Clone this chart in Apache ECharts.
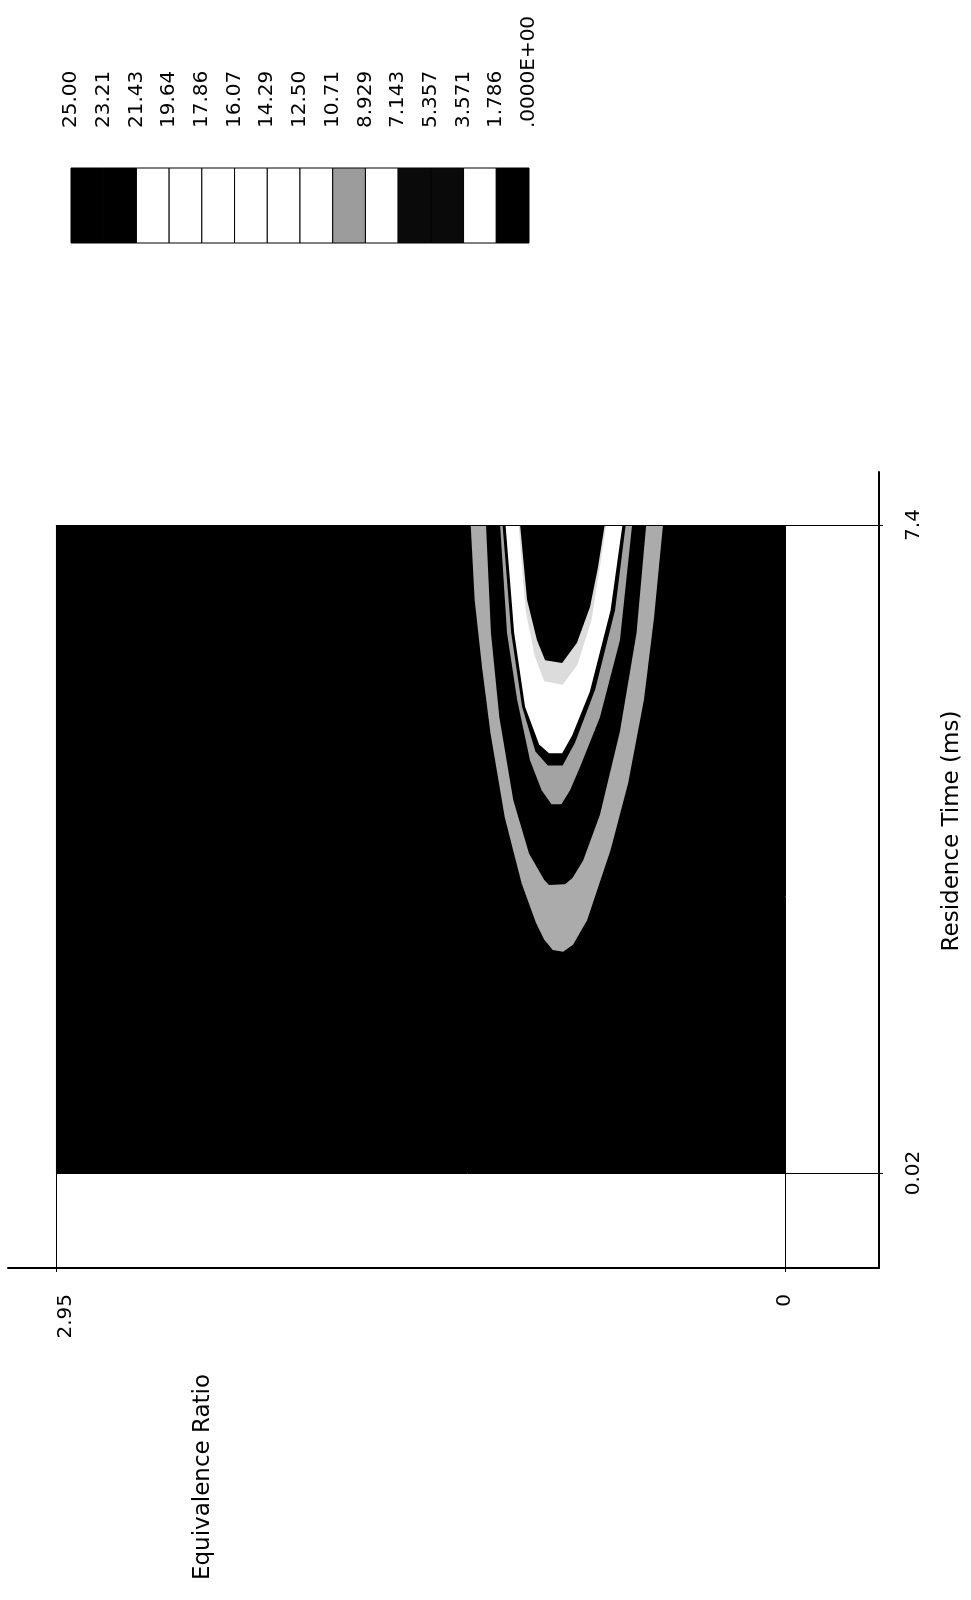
<!DOCTYPE html>
<html>
<head>
<meta charset="utf-8">
<script src="https://cdn.jsdelivr.net/npm/echarts@6/dist/echarts.min.js"></script>
<style>
html, body { margin: 0; padding: 0; background: #fff; }
#chart { width: 971px; height: 1600px; }
</style>
</head>
<body>
<div id="chart"></div>
<script>
// colour scale: labels sit on the cell boundaries, 25 -> 0
var levelLabels = ['25.00', '23.21', '21.43', '19.64', '17.86', '16.07', '14.29', '12.50',
    '10.71', '8.929', '7.143', '5.357', '3.571', '1.786', '.0000E+00'];
var levelColors = ['#000', '#000', '#fff', '#fff', '#fff', '#fff', '#fff', '#fff',
    '#9c9c9c', '#fff', '#0a0a0a', '#0a0a0a', '#fff', '#000'];

// axes (equivalence ratio runs right->left, residence time bottom->top)
var ratioTicks = [2.95, 0];
var timeTicks = [0.02, 7.4];
var ratioRange = [0, 2.95];
var timeRange = [0.02, 7.4];
var ratioAxis = [-0.38, 3.144];
var timeAxis = [-1.062, 8.004];

// contour boundaries, [equivalence ratio, residence time]
var outerGrayEdge = [[1.272, 7.4], [1.256, 6.55], [1.226, 5.78], [1.192, 5.03], [1.134, 4.07],
    [1.066, 3.32], [1.008, 2.87], [0.975, 2.68], [0.940, 2.56], [0.898, 2.54], [0.858, 2.62],
    [0.801, 2.90], [0.706, 3.70], [0.635, 4.46], [0.571, 5.41], [0.530, 6.35], [0.494, 7.4]];
var blackBandEdge = [[1.210, 7.4], [1.190, 6.17], [1.156, 5.21], [1.100, 4.27], [1.036, 3.66],
    [0.975, 3.36], [0.955, 3.30], [0.890, 3.31], [0.860, 3.38], [0.817, 3.58], [0.749, 4.10],
    [0.668, 5.05], [0.601, 6.17], [0.562, 7.4]];
var innerGrayEdge = [[1.153, 7.4], [1.125, 6.17], [1.084, 5.41], [1.032, 4.72], [0.985, 4.38],
    [0.945, 4.22], [0.905, 4.22], [0.870, 4.38], [0.830, 4.64], [0.749, 5.21], [0.668, 6.09],
    [0.619, 7.4]];
var thinRingEdge = [[1.143, 7.4], [1.108, 6.17], [1.064, 5.33], [1.010, 4.82], [0.960, 4.66],
    [0.900, 4.66], [0.850, 4.92], [0.768, 5.53], [0.688, 6.43], [0.645, 7.4]];
var whiteEdge = [[1.131, 7.4], [1.096, 6.17], [1.052, 5.33], [0.995, 4.90], [0.955, 4.80],
    [0.902, 4.80], [0.862, 5.00], [0.790, 5.50], [0.706, 6.43], [0.658, 7.4]];
var lightEdge = [[1.078, 7.4], [1.050, 6.43], [1.014, 5.92], [0.975, 5.62], [0.900, 5.58],
    [0.840, 5.81], [0.783, 6.32], [0.751, 6.89], [0.724, 7.4]];
var innerCoreEdge = [[1.072, 7.4], [1.044, 6.55], [1.004, 6.09], [0.971, 5.86], [0.902, 5.83],
    [0.842, 6.06], [0.789, 6.47], [0.757, 6.92], [0.730, 7.4]];

var backgroundRect = [[ratioRange[0], timeRange[0]], [ratioRange[1], timeRange[0]],
    [ratioRange[1], timeRange[1]], [ratioRange[0], timeRange[1]]];

var bands = [
    { edge: backgroundRect, color: '#000' },
    { edge: outerGrayEdge, color: '#ababab' },
    { edge: blackBandEdge, color: '#000' },
    { edge: innerGrayEdge, color: '#a3a3a3' },
    { edge: thinRingEdge, color: '#000' },
    { edge: whiteEdge, color: '#fff' },
    { edge: lightEdge, color: '#dcdcdc' },
    { edge: innerCoreEdge, color: '#000' }
];

var font = 'DejaVu Sans';

function crisp(v) {
    return Math.round(v) + 0.5;
}

var option = {
    backgroundColor: '#fff',
    animation: false,
    grid: [
        { left: 8, right: 92, top: 472, bottom: 332, outerBoundsMode: 'none' },
        { left: 71, width: 458, top: 168, height: 75, outerBoundsMode: 'none' }
    ],
    xAxis: [
        {
            gridIndex: 0,
            type: 'value',
            inverse: true,
            min: ratioAxis[0],
            max: ratioAxis[1],
            splitLine: { show: false },
            axisLine: { onZero: false, lineStyle: { color: '#000', width: 2 } },
            axisTick: { customValues: ratioTicks, length: 4, lineStyle: { color: '#000' } },
            axisLabel: {
                customValues: ratioTicks,
                rotate: 90,
                margin: 26,
                color: '#000',
                fontFamily: font,
                fontSize: 20,
                formatter: function (v) {
                    return v === 0 ? '0' : '{s|' + v + '}';
                },
                rich: { s: { fontFamily: font, fontSize: 20, color: '#000', padding: [20, 0, 0, 0] } }
            }
        },
        {
            gridIndex: 1,
            type: 'value',
            min: 0,
            max: levelColors.length,
            interval: 1,
            position: 'top',
            splitLine: { show: false },
            axisLine: { show: false },
            axisTick: { show: false },
            axisLabel: {
                rotate: 90,
                margin: 40,
                color: '#000',
                fontFamily: font,
                fontSize: 20,
                formatter: function (v) { return levelLabels[v]; }
            }
        }
    ],
    yAxis: [
        {
            gridIndex: 0,
            type: 'value',
            position: 'right',
            min: timeAxis[0],
            max: timeAxis[1],
            splitLine: { show: false },
            axisLine: { onZero: false, lineStyle: { color: '#000', width: 2 } },
            axisTick: { customValues: timeTicks, length: 4, lineStyle: { color: '#000' } },
            axisLabel: {
                customValues: timeTicks,
                rotate: 90,
                margin: 25,
                color: '#000',
                fontFamily: font,
                fontSize: 20
            },
            name: 'Residence Time (ms)',
            nameLocation: 'middle',
            nameRotate: 90,
            nameGap: 62,
            nameTextStyle: { color: '#000', fontFamily: font, fontSize: 23, padding: [0, 0, 0, 78] }
        },
        {
            gridIndex: 1,
            type: 'value',
            min: 0,
            max: 1,
            show: false
        }
    ],
    graphic: [{
        type: 'text',
        x: 203,
        y: 1477,
        rotation: Math.PI / 2,
        style: {
            text: 'Equivalence Ratio',
            fill: '#000',
            font: '23px "DejaVu Sans"',
            align: 'center',
            verticalAlign: 'middle'
        }
    }],
    series: [
        {
            name: 'contours',
            type: 'custom',
            xAxisIndex: 0,
            yAxisIndex: 0,
            silent: true,
            data: bands.map(function (b, i) { return [i, 0]; }),
            renderItem: function (params, api) {
                var b = bands[params.dataIndex];
                return {
                    type: 'polygon',
                    shape: { points: b.edge.map(function (p) { return api.coord(p); }) },
                    style: { fill: b.color }
                };
            }
        },
        {
            name: 'frame',
            type: 'custom',
            xAxisIndex: 0,
            yAxisIndex: 0,
            silent: true,
            z: 5,
            data: [[0, 0]],
            renderItem: function (params, api) {
                var segs = [
                    [[ratioRange[0], timeRange[1]], [ratioRange[0], timeAxis[0]]],
                    [[ratioRange[1], timeRange[1]], [ratioRange[1], timeAxis[0]]],
                    [[ratioRange[1], timeRange[1]], [ratioAxis[0], timeRange[1]]],
                    [[ratioRange[1], timeRange[0]], [ratioAxis[0], timeRange[0]]]
                ];
                return {
                    type: 'group',
                    children: segs.map(function (s) {
                        var a = api.coord(s[0]), b = api.coord(s[1]);
                        var vertical = Math.abs(a[0] - b[0]) < 1;
                        return {
                            type: 'line',
                            shape: vertical
                                ? { x1: crisp(a[0]), y1: a[1], x2: crisp(a[0]), y2: b[1] }
                                : { x1: a[0], y1: crisp(a[1]), x2: b[0], y2: crisp(a[1]) },
                            style: { stroke: '#000', lineWidth: 1 }
                        };
                    })
                };
            }
        },
        {
            name: 'scale',
            type: 'custom',
            xAxisIndex: 1,
            yAxisIndex: 1,
            silent: true,
            data: levelColors.map(function (c, i) { return [i, 0]; }),
            renderItem: function (params, api) {
                var i = params.dataIndex;
                var p0 = api.coord([i, 1]);
                var p1 = api.coord([i + 1, 0]);
                return {
                    type: 'rect',
                    shape: { x: p0[0], y: p0[1], width: p1[0] - p0[0], height: p1[1] - p0[1] },
                    style: { fill: levelColors[i], stroke: '#000', lineWidth: 1 }
                };
            }
        }
    ]
};

var chart = echarts.init(document.getElementById('chart'));
chart.setOption(option);
</script>
</body>
</html>
